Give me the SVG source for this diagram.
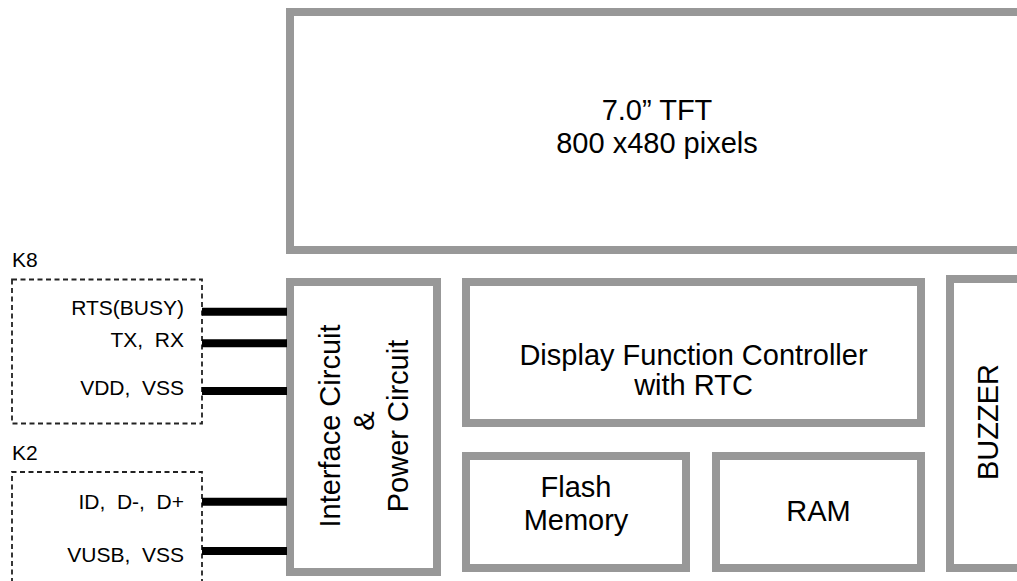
<svg xmlns="http://www.w3.org/2000/svg" width="1017" height="581" viewBox="0 0 1017 581">
<style>
.blk{fill:#fff;stroke:#989898;stroke-width:8}
.dash{fill:none;stroke:#222;stroke-width:1.8;stroke-dasharray:5,3.5}
.big{font-family:"Liberation Sans",Arial,sans-serif;font-size:29px;fill:#000;text-anchor:middle}
.sm{font-family:"Liberation Sans",Arial,sans-serif;font-size:21px;fill:#000;white-space:pre}
.end{text-anchor:end}
.wire{stroke:#000;stroke-width:8;fill:none}
</style>
<rect width="1017" height="581" fill="#fff"/>
<g id="tft">
<rect class="blk" x="290" y="12" width="800" height="238"/>
<text class="big" x="657" y="120">7.0” TFT</text>
<text class="big" x="657" y="153">800 x480 pixels</text>
</g>
<g id="interface">
<rect class="blk" x="290" y="282" width="147" height="290"/>
<text class="big" transform="translate(340,426) rotate(-90)">Interface Circuit</text>
<text class="big" transform="translate(374,421) rotate(-90)">&amp;</text>
<text class="big" transform="translate(407.5,426) rotate(-90)">Power Circuit</text>
</g>
<g id="controller">
<rect class="blk" x="466" y="282" width="455" height="141"/>
<text class="big" x="693.5" y="365">Display Function Controller</text>
<text class="big" x="693.5" y="395">with RTC</text>
</g>
<g id="flash">
<rect class="blk" x="466" y="456" width="220" height="112"/>
<text class="big" x="576" y="497">Flash</text>
<text class="big" x="576" y="530">Memory</text>
</g>
<g id="ram">
<rect class="blk" x="716" y="456" width="205" height="112"/>
<text class="big" x="818.5" y="521">RAM</text>
</g>
<g id="buzzer">
<rect class="blk" x="950" y="279" width="200" height="289"/>
<text class="big" transform="translate(998,422) rotate(-90)">BUZZER</text>
</g>
<g id="k8">
<text class="sm" x="12" y="267">K8</text>
<rect class="dash" x="12" y="279.5" width="190" height="144"/>
<text class="sm end" x="184" y="315">RTS(BUSY)</text>
<text class="sm end" x="184" y="346.5">TX,  RX</text>
<text class="sm end" x="184" y="395">VDD,  VSS</text>
</g>
<g id="k2">
<text class="sm" x="12" y="460">K2</text>
<path class="dash" d="M12,600 V472 H202 V600"/>
<text class="sm end" x="184" y="508.5">ID,  D-,  D+</text>
<text class="sm end" x="184" y="561.5">VUSB,  VSS</text>
</g>
<g id="connectors">
<line class="wire" x1="202" y1="311.7" x2="287" y2="311.7"/>
<line class="wire" x1="202" y1="343.3" x2="287" y2="343.3"/>
<line class="wire" x1="202" y1="391" x2="287" y2="391"/>
<line class="wire" x1="202" y1="501.7" x2="287" y2="501.7"/>
<line class="wire" x1="202" y1="551" x2="287" y2="551"/>
</g>
</svg>
